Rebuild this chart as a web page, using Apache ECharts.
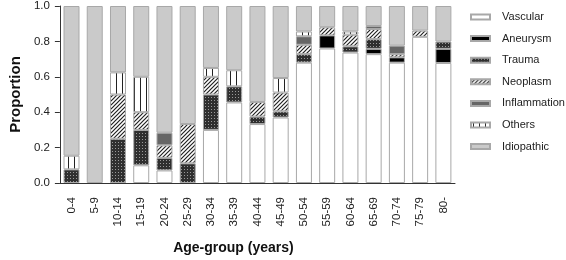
<!DOCTYPE html>
<html lang="en">
<head>
  <meta charset="UTF-8">
  <title>Proportion by age-group</title>
  <script src="https://cdn.jsdelivr.net/npm/echarts@6/dist/echarts.min.js"></script>
  <style>
    html, body { margin: 0; padding: 0; background: #fff; }
    #main { width: 566px; height: 260px; }
  </style>
</head>
<body>
  <div id="main"></div>
  <script type="text/javascript">
    var ageGroups = ['0-4', '5-9', '10-14', '15-19', '20-24', '25-29', '30-34', '35-39', '40-44',
      '45-49', '50-54', '55-59', '60-64', '65-69', '70-74', '75-79', '80-'];
    var yTicks = [0, 0.2, 0.4, 0.6, 0.8, 1.0];

    // proportions, stacked bottom -> top
    var vascular     = [0, 0, 0, 0.1, 0.071, 0, 0.3, 0.455, 0.333, 0.37, 0.68, 0.76, 0.737, 0.728, 0.68, 0.826, 0.678];
    var aneurysm     = [0, 0, 0, 0, 0, 0, 0, 0, 0, 0, 0, 0.074, 0, 0.03, 0.03, 0, 0.08];
    var trauma       = [0.077, 0, 0.25, 0.2, 0.071, 0.111, 0.2, 0.091, 0.042, 0.035, 0.048, 0, 0.035, 0.055, 0, 0, 0.041];
    var neoplasm     = [0, 0, 0.25, 0.1, 0.071, 0.222, 0.1, 0, 0.083, 0.106, 0.053, 0.046, 0.066, 0.057, 0.018, 0.035, 0];
    var inflammation = [0, 0, 0, 0, 0.071, 0, 0, 0, 0, 0, 0.048, 0, 0, 0.017, 0.048, 0, 0];
    var others       = [0.077, 0, 0.125, 0.2, 0, 0, 0.05, 0.091, 0, 0.082, 0.027, 0, 0.018, 0, 0, 0, 0];
    var idiopathic   = [0.846, 1, 0.375, 0.4, 0.716, 0.667, 0.35, 0.363, 0.542, 0.407, 0.144, 0.12, 0.144, 0.113, 0.224, 0.139, 0.201];

    var FONT = '"Liberation Sans", Arial, Helvetica, sans-serif';

    // small canvas tiles for the fill patterns
    function pat(w, h, draw) {
      var c = document.createElement('canvas');
      c.width = w; c.height = h;
      var g = c.getContext('2d');
      draw(g, w, h);
      return { image: c, repeat: 'repeat' };
    }
    var dots = pat(3, 3, function (g) {
      g.fillStyle = '#2f2f2f'; g.fillRect(0, 0, 3, 3);
      g.fillStyle = '#9a9a9a'; g.fillRect(1, 1, 1, 1);
    });
    var hatch = pat(4, 4, function (g) {
      g.fillStyle = '#fff'; g.fillRect(0, 0, 4, 4);
      g.strokeStyle = '#222'; g.lineWidth = 1.2;
      g.beginPath();
      g.moveTo(0, 4); g.lineTo(4, 0);
      g.moveTo(-1, 1); g.lineTo(1, -1);
      g.moveTo(3, 5); g.lineTo(5, 3);
      g.stroke();
    });
    var vlines = pat(6, 2, function (g) {
      g.fillStyle = '#fff'; g.fillRect(0, 0, 6, 2);
      g.fillStyle = '#222'; g.fillRect(2, 0, 1, 2);
    });

    var layers = [
      { name: 'Vascular', data: vascular, color: '#ffffff' },
      { name: 'Aneurysm', data: aneurysm, color: '#000000' },
      { name: 'Trauma', data: trauma, color: dots },
      { name: 'Neoplasm', data: neoplasm, color: hatch },
      { name: 'Inflammation', data: inflammation, color: '#666666' },
      { name: 'Others', data: others, color: vlines },
      { name: 'Idiopathic', data: idiopathic, color: '#cacaca' }
    ];

    var series = layers.map(function (l) {
      return {
        name: l.name,
        type: 'bar',
        stack: 'all',
        barWidth: 16,
        data: l.data.map(function (v) { return v === 0 ? '-' : v; }),
        itemStyle: { color: l.color, borderColor: '#a8a8a8', borderWidth: 1 },
        emphasis: { disabled: true },
        silent: true
      };
    });

    var myChart = echarts.init(document.getElementById('main'), null, { renderer: 'canvas' });
    var option = {
      animation: false,
      textStyle: { fontFamily: FONT },
      grid: { left: 50, right: 111, top: 5.5, bottom: 66.5 },
      legend: {
        orient: 'vertical',
        left: 470,
        top: 10,
        padding: 0,
        itemWidth: 19,
        itemHeight: 5,
        itemGap: 7.6,
        icon: 'rect',
        data: layers.map(function (l) { return l.name; }),
        textStyle: { fontFamily: FONT, fontSize: 11, color: '#222', lineHeight: 14, padding: [0, 0, 0, 7] }
      },
      xAxis: {
        type: 'category',
        data: ageGroups,
        name: 'Age-group (years)',
        nameLocation: 'middle',
        nameGap: 58,
        nameTextStyle: { fontFamily: FONT, fontSize: 14, fontWeight: 'bold', color: '#111', padding: [0, 48, 0, 0] },
        axisLine: { lineStyle: { color: '#333', width: 1 } },
        axisTick: { alignWithLabel: true, interval: 0, length: 5, lineStyle: { color: '#333' } },
        axisLabel: { rotate: 90, interval: 0, margin: 14, fontSize: 11.5, color: '#222', fontFamily: FONT }
      },
      yAxis: {
        type: 'value',
        min: 0,
        max: 1,
        interval: 0.2,
        name: 'Proportion',
        nameLocation: 'middle',
        nameGap: 32,
        nameTextStyle: { fontFamily: FONT, fontSize: 15, fontWeight: 'bold', color: '#111' },
        axisLine: { show: true, lineStyle: { color: '#333', width: 1 } },
        axisTick: { show: true, length: 5, lineStyle: { color: '#333' } },
        splitLine: { show: false },
        axisLabel: {
          margin: 10, fontSize: 11.5, color: '#222', fontFamily: FONT,
          formatter: function (v) { return yTicks.indexOf(v) >= 0 ? v.toFixed(1) : ''; }
        }
      },
      series: series
    };
    myChart.setOption(option);
  </script>
</body>
</html>
